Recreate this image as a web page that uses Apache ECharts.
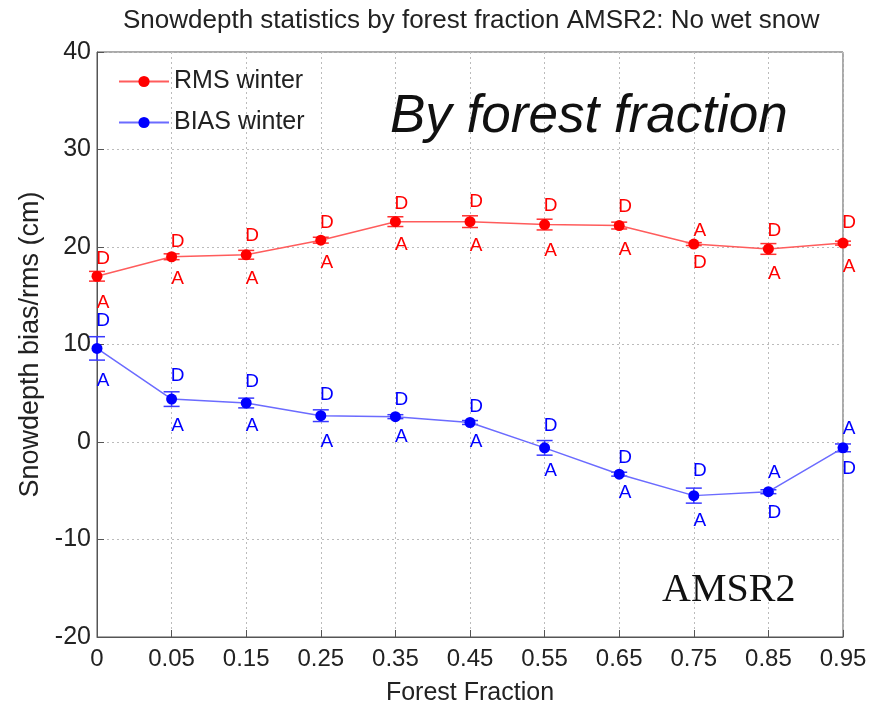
<!DOCTYPE html>
<html>
<head>
<meta charset="utf-8">
<script src="https://cdn.jsdelivr.net/npm/echarts@6/dist/echarts.min.js"></script>
<style>html,body{margin:0;padding:0;background:#fff}#c{width:883px;height:705px}</style>
</head>
<body>
<div id="c"></div>
<script>
const categories = ['0','0.05','0.15','0.25','0.35','0.45','0.55','0.65','0.75','0.85','0.95'];
const rmsWinter = [17.0, 19.0, 19.2, 20.7, 22.6, 22.6, 22.3, 22.2, 20.3, 19.8, 20.4];
const rmsErr    = [0.5, 0.3, 0.45, 0.3, 0.5, 0.6, 0.55, 0.35, 0.15, 0.55, 0.2];
const biasWinter = [9.6, 4.4, 4.0, 2.7, 2.6, 2.0, -0.6, -3.3, -5.5, -5.1, -0.6];
const biasErr    = [1.2, 0.75, 0.5, 0.6, 0.2, 0.2, 0.75, 0.2, 0.77, 0.2, 0.4];
const rmsD  = [18.8, 20.5, 21.2, 22.5, 24.4, 24.6, 24.2, 24.1, 18.4, 21.7, 22.5];
const rmsA  = [14.3, 16.7, 16.7, 18.4, 20.2, 20.1, 19.6, 19.7, 21.7, 17.3, 18.0];
const biasD = [12.4, 6.8, 6.2, 4.8, 4.3, 3.6, 1.7, -1.6, -3.0, -7.3, -2.7];
const biasA = [6.3, 1.7, 1.7, 0.0, 0.5, 0.0, -3.0, -5.2, -8.1, -3.2, 1.4];
const yTicks = {min: -20, max: 40, interval: 10};

const chart = echarts.init(document.getElementById('c'), null, {renderer: 'canvas'});

function errData(vals, errs) {
  return vals.map((v, i) => [i, v - errs[i], v + errs[i]]);
}
function errSeries(vals, errs, color) {
  return {
    type: 'custom',
    silent: true,
    z: 3,
    data: errData(vals, errs),
    renderItem: function (params, api) {
      const x = api.value(0);
      const lo = api.coord([x, api.value(1)]);
      const hi = api.coord([x, api.value(2)]);
      const w = 8;
      const st = {stroke: color, lineWidth: 1.5};
      return {
        type: 'group',
        children: [
          {type: 'line', shape: {x1: lo[0], y1: lo[1], x2: hi[0], y2: hi[1]}, style: st},
          {type: 'line', shape: {x1: lo[0]-w, y1: lo[1], x2: lo[0]+w, y2: lo[1]}, style: st},
          {type: 'line', shape: {x1: hi[0]-w, y1: hi[1], x2: hi[0]+w, y2: hi[1]}, style: st}
        ]
      };
    }
  };
}
function letterSeries(vals, letter, color) {
  return {
    type: 'scatter',
    silent: true,
    symbolSize: 1,
    itemStyle: {color: 'rgba(0,0,0,0)'},
    z: 4,
    data: vals.map((v, i) => [i, v]),
    label: {
      show: true,
      position: 'inside',
      offset: [6, 0],
      formatter: letter,
      color: color,
      textBorderWidth: 0,
      opacity: 1,
      fontSize: 19,
      fontFamily: 'Liberation Sans, Arial, sans-serif'
    }
  };
}

const font = 'Liberation Sans, Arial, Helvetica, sans-serif';

chart.setOption({
  backgroundColor: '#fff',
  animation: false,
  title: {
    text: 'Snowdepth statistics by forest fraction AMSR2: No wet snow',
    left: 118,
    top: 3,
    textStyle: {fontSize: 26, fontWeight: 'normal', color: '#222', fontFamily: font}
  },
  legend: {
    data: ['RMS winter', 'BIAS winter'],
    orient: 'vertical',
    left: 113,
    top: 64,
    itemWidth: 50,
    itemHeight: 14,
    itemGap: 16,
    textStyle: {fontSize: 25, color: '#222', fontFamily: font}
  },
  grid: {
    left: 97, right: 40, top: 52, bottom: 68,
    outerBoundsMode: 'none',
    show: true, borderColor: '#555', borderWidth: 1, backgroundColor: 'transparent'
  },
  xAxis: {
    type: 'category',
    data: categories,
    boundaryGap: false,
    name: 'Forest Fraction',
    nameLocation: 'middle',
    nameGap: 44,
    nameTextStyle: {fontSize: 25, color: '#222', fontFamily: font},
    axisLine: {onZero: false, lineStyle: {color: '#555', width: 1}},
    axisTick: {inside: true, length: 7, lineStyle: {color: '#555'}},
    axisLabel: {fontSize: 24, color: '#222', margin: 10, fontFamily: font},
    splitLine: {show: true, lineStyle: {type: [2, 3], color: '#bbb'}}
  },
  yAxis: {
    type: 'value',
    min: yTicks.min, max: yTicks.max, interval: yTicks.interval,
    name: 'Snowdepth bias/rms (cm)',
    nameLocation: 'middle',
    nameGap: 47,
    nameTextStyle: {fontSize: 27, color: '#222', fontFamily: font},
    axisLine: {show: true, lineStyle: {color: '#555', width: 1}},
    axisTick: {show: true, inside: true, length: 7, lineStyle: {color: '#555'}},
    axisLabel: {fontSize: 25, color: '#222', margin: 6, fontFamily: font},
    splitLine: {show: true, lineStyle: {type: [2, 3], color: '#bbb'}}
  },
  graphic: [
    {
      type: 'text', left: 390, top: 91, z: 10,
      style: {text: 'By forest fraction', font: 'italic 53px Liberation Sans, Arial, sans-serif', fill: '#111'}
    },
    {
      type: 'text', left: 662, top: 570, z: 10,
      style: {text: 'AMSR2', font: '40px Liberation Serif, Times New Roman, serif', fill: '#111'}
    }
  ],
  series: [
    {
      name: 'RMS winter', type: 'line', data: rmsWinter,
      symbol: 'circle', symbolSize: 11, z: 5,
      lineStyle: {color: '#ff5c5c', width: 1.5},
      itemStyle: {color: '#ff0000'}
    },
    {
      name: 'BIAS winter', type: 'line', data: biasWinter,
      symbol: 'circle', symbolSize: 11, z: 5,
      lineStyle: {color: '#6b6bff', width: 1.5},
      itemStyle: {color: '#0000ff'}
    },
    errSeries(rmsWinter, rmsErr, '#ff3030'),
    errSeries(biasWinter, biasErr, '#3a3aff'),
    letterSeries(rmsD, 'D', '#ff0000'),
    letterSeries(rmsA, 'A', '#ff0000'),
    letterSeries(biasD, 'D', '#0000ff'),
    letterSeries(biasA, 'A', '#0000ff')
  ]
});
</script>
</body>
</html>
